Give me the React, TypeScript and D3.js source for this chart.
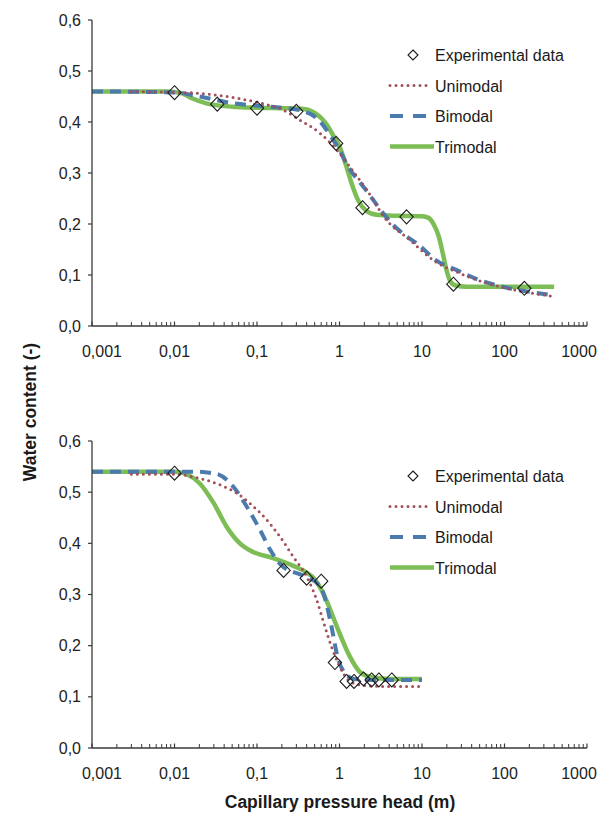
import React from "react";
import * as d3 from "d3";

type Pt = [number, number];

// ---------- data ----------
const xTickValues = [0.001, 0.01, 0.1, 1, 10, 100, 1000];
const xTickLabels = ["0,001", "0,01", "0,1", "1", "10", "100", "1000"];
const yTickValues = [0, 0.1, 0.2, 0.3, 0.4, 0.5, 0.6];

const topExperimental: Pt[] = [
  [0.01, 0.4575], [0.033, 0.435], [0.1, 0.427], [0.3, 0.421], [0.91, 0.358],
  [1.9, 0.232], [6.5, 0.214], [24, 0.082], [174, 0.074],
];
const topUnimodal: Pt[] = [
  [0.003, 0.46], [0.01, 0.458], [0.017, 0.457], [0.043, 0.45], [0.11, 0.437],
  [0.2, 0.425], [0.33, 0.404], [0.58, 0.378], [0.93, 0.345], [1.47, 0.303],
  [2.14, 0.267], [3.7, 0.208], [7.1, 0.169], [13.7, 0.129], [29, 0.103],
  [61, 0.084], [128, 0.071], [400, 0.058],
];
const topBimodal: Pt[] = [
  [0.001, 0.46], [0.01, 0.458], [0.02, 0.45], [0.05, 0.437], [0.1, 0.432],
  [0.2, 0.428], [0.35, 0.422], [0.55, 0.405], [0.8, 0.37], [1.0, 0.345],
  [1.3, 0.31], [1.8, 0.28], [2.2, 0.262], [3, 0.232], [4.5, 0.198], [6, 0.18],
  [9, 0.16], [15, 0.128], [26, 0.11], [50, 0.09], [107, 0.075], [200, 0.067],
  [400, 0.06],
];
const topTrimodal: Pt[] = [
  [0.001, 0.46], [0.008, 0.46], [0.012, 0.457], [0.016, 0.447], [0.025, 0.436],
  [0.05, 0.43], [0.1, 0.428], [0.2, 0.427], [0.35, 0.426], [0.5, 0.418],
  [0.7, 0.395], [0.85, 0.372], [1.0, 0.352], [1.2, 0.315], [1.4, 0.28],
  [1.7, 0.245], [2.1, 0.226], [2.8, 0.218], [5, 0.216], [10, 0.215],
  [12, 0.212], [14, 0.198], [16, 0.175], [18, 0.14], [20, 0.107], [22, 0.088],
  [25, 0.08], [35, 0.077], [400, 0.077],
];

const bottomExperimental: Pt[] = [
  [0.01, 0.537], [0.21, 0.347], [0.4, 0.332], [0.6, 0.326], [0.88, 0.167],
  [1.22, 0.13], [1.5, 0.13], [1.95, 0.135], [2.45, 0.133], [3.0, 0.133],
  [4.3, 0.133],
];
const bottomUnimodal: Pt[] = [
  [0.003, 0.535], [0.01, 0.535], [0.02, 0.527], [0.036, 0.514], [0.057, 0.498],
  [0.082, 0.478], [0.131, 0.446], [0.19, 0.413], [0.275, 0.374], [0.4, 0.335],
  [0.53, 0.289], [0.63, 0.25], [0.8, 0.198], [1.0, 0.16], [1.34, 0.13],
  [2, 0.122], [4, 0.12], [10, 0.12],
];
const bottomBimodal: Pt[] = [
  [0.001, 0.54], [0.017, 0.54], [0.032, 0.536], [0.052, 0.51], [0.075, 0.472],
  [0.109, 0.426], [0.145, 0.387], [0.2, 0.356], [0.36, 0.337], [0.55, 0.32],
  [0.63, 0.305], [0.77, 0.25], [0.97, 0.172], [1.17, 0.146], [1.5, 0.135],
  [2.5, 0.133], [10, 0.133],
];
const bottomTrimodal: Pt[] = [
  [0.001, 0.54], [0.01, 0.54], [0.014, 0.535], [0.02, 0.518], [0.03, 0.478],
  [0.043, 0.432], [0.062, 0.4], [0.09, 0.383], [0.15, 0.372], [0.275, 0.356],
  [0.4, 0.343], [0.5, 0.33], [0.6, 0.31], [0.7, 0.287], [0.93, 0.237],
  [1.34, 0.178], [1.78, 0.148], [2.5, 0.138], [4, 0.135], [10, 0.135],
];

const legendLabels = ["Experimental data", "Unimodal", "Bimodal", "Trimodal"];

// ---------- styles ----------
const FONT = "'Liberation Sans', Arial, sans-serif";
const GREEN = "#7dbd55";
const BLUE = "#4b7aac";
const RED = "#a24f58";
const AXIS = "#3a3a3a";

const W = 606;
const H = 823;

interface PanelProps {
  top: number;
  bottom: number;
  exp: Pt[];
  uni: Pt[];
  bi: Pt[];
  tri: Pt[];
}

function Panel({ top, bottom, exp, uni, bi, tri }: PanelProps) {
  const left = 92;
  const right = 587;
  const x = d3.scaleLog().domain([0.001, 1000]).range([left, right]);
  const y = d3.scaleLinear().domain([0, 0.6]).range([bottom, top]);
  const line = d3
    .line<Pt>()
    .x((d) => x(d[0]))
    .y((d) => y(d[1]))
    .curve(d3.curveMonotoneX);

  const minor: number[] = [];
  for (let e = -3; e < 3; e++) {
    for (let m = 2; m <= 9; m++) minor.push(m * Math.pow(10, e));
  }
  const fmtY = (v: number) => d3.format(".1f")(v).replace(".", ",");

  const legX = 390;
  const legTextX = 435;
  const legY0 = top + 35;
  const legDy = 30.5;

  return (
    <g>
      <path d={line(tri) || ""} fill="none" stroke={GREEN} strokeWidth={4.5} strokeLinejoin="round" />
      <path d={line(bi) || ""} fill="none" stroke={BLUE} strokeWidth={4} strokeDasharray="11,7" />
      <path d={line(uni) || ""} fill="none" stroke={RED} strokeWidth={3} strokeDasharray="0,6" strokeLinecap="round" />
      {exp.map((d, i) => {
        const cx = x(d[0]);
        const cy = y(d[1]);
        const r = 7;
        return (
          <path
            key={i}
            d={`M${cx},${cy - r}L${cx + r * 0.95},${cy}L${cx},${cy + r}L${cx - r * 0.95},${cy}Z`}
            fill="none"
            stroke="#1c1c1c"
            strokeWidth={1.1}
          />
        );
      })}
      <line x1={left} x2={left} y1={y(0.6)} y2={y(0)} stroke={AXIS} strokeWidth={1.3} />
      <line x1={left} x2={right} y1={y(0)} y2={y(0)} stroke={AXIS} strokeWidth={1.3} />
      {yTickValues.map((v) => (
        <g key={"y" + v}>
          <line x1={left - 4} x2={left} y1={y(v)} y2={y(v)} stroke={AXIS} strokeWidth={1.2} />
          <text x={left - 11} y={y(v) + 5.5} textAnchor="end" fontFamily={FONT} fontSize={16} fill="#222">
            {fmtY(v)}
          </text>
        </g>
      ))}
      {xTickValues.map((v) => (
        <line key={"xm" + v} x1={x(v)} x2={x(v)} y1={y(0)} y2={y(0) - 4.5} stroke={AXIS} strokeWidth={1.2} />
      ))}
      {minor.map((v) => (
        <line key={"xn" + v} x1={x(v)} x2={x(v)} y1={y(0)} y2={y(0) - 4} stroke={AXIS} strokeWidth={1} />
      ))}
      {xTickValues.map((v, i) => {
        const dx = i === 0 ? 10 : i === xTickValues.length - 1 ? -8 : 0;
        return (
          <text key={"xl" + v} x={x(v) + dx} y={y(0) + 31} textAnchor="middle" fontFamily={FONT} fontSize={16} fill="#222">
            {xTickLabels[i]}
          </text>
        );
      })}
      <g fontFamily={FONT} fontSize={16} fill="#1a1a1a">
        <path
          d={`M${413},${legY0 - 5}L${418},${legY0}L${413},${legY0 + 5}L${408},${legY0}Z`}
          fill="none"
          stroke="#1c1c1c"
          strokeWidth={1.1}
        />
        <line x1={legX} x2={legX + 41} y1={legY0 + legDy} y2={legY0 + legDy} stroke={RED} strokeWidth={3} strokeDasharray="0,6" strokeLinecap="round" />
        <line x1={legX} x2={legX + 41} y1={legY0 + 2 * legDy} y2={legY0 + 2 * legDy} stroke={BLUE} strokeWidth={4} strokeDasharray="13,10" />
        <line x1={legX} x2={legX + 44} y1={legY0 + 3 * legDy} y2={legY0 + 3 * legDy} stroke={GREEN} strokeWidth={4.5} />
        {legendLabels.map((t, i) => (
          <text key={t} x={legTextX} y={legY0 + i * legDy + 6}>
            {t}
          </text>
        ))}
      </g>
    </g>
  );
}

export default function App() {
  return (
    <svg width={W} height={H} style={{ position: "absolute", left: 0, top: 0, background: "#fff" }}>
      <rect x={0} y={0} width={W} height={H} fill="#fff" />
      <Panel top={20} bottom={326} exp={topExperimental} uni={topUnimodal} bi={topBimodal} tri={topTrimodal} />
      <Panel top={441} bottom={748} exp={bottomExperimental} uni={bottomUnimodal} bi={bottomBimodal} tri={bottomTrimodal} />
      <text
        transform="translate(36,412) rotate(-90)"
        textAnchor="middle"
        fontFamily={FONT}
        fontWeight="bold"
        fontSize={17.5}
        fill="#1a1a1a"
      >
        Water content (-)
      </text>
      <text x={340} y={808} textAnchor="middle" fontFamily={FONT} fontWeight="bold" fontSize={17.5} fill="#1a1a1a">
        Capillary pressure head (m)
      </text>
    </svg>
  );
}
